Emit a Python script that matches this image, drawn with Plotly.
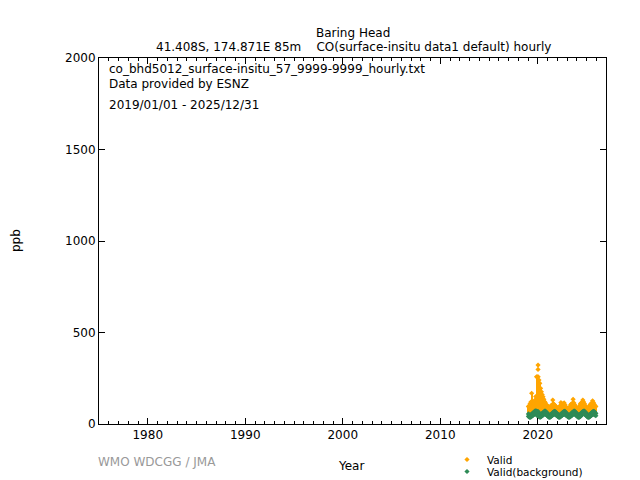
import plotly.graph_objects as go

# monthly summaries of the hourly record, 2019-01 .. 2025-12
years = [2019, 2020, 2021, 2022, 2023, 2024, 2025]
months = [1, 2, 3, 4, 5, 6, 7, 8, 9, 10, 11, 12]

# Valid: monthly max / min of hourly values (ppb)
valid_hi = [
    95, 100, 110, 120, 168, 125, 115, 120, 130, 150, 258, 258,   # 2019
    258, 240, 222, 195, 176, 160, 149, 135, 122, 115, 104, 100,  # 2020
    98, 90, 88, 95, 100, 105, 131, 110, 105, 100, 95, 90,        # 2021
    82, 80, 88, 100, 117, 110, 108, 112, 115, 105, 95, 88,       # 2022
    80, 78, 85, 95, 105, 110, 112, 135, 115, 105, 95, 88,        # 2023
    82, 80, 90, 100, 110, 115, 118, 131, 120, 110, 100, 92,      # 2024
    85, 82, 88, 98, 105, 110, 115, 127, 118, 108, 100, 95,       # 2025
]
valid_lo = [
    36, 33, 32, 34, 37, 41, 44, 48, 50, 50, 46, 42,
    40, 36, 33, 34, 37, 41, 44, 48, 51, 50, 45, 41,
    37, 33, 32, 34, 37, 41, 44, 47, 50, 49, 45, 41,
    37, 33, 32, 34, 37, 41, 44, 47, 50, 49, 45, 41,
    37, 33, 32, 34, 37, 41, 44, 48, 51, 50, 45, 41,
    37, 33, 32, 34, 38, 42, 45, 49, 52, 51, 46, 42,
    38, 34, 32, 34, 37, 41, 44, 48, 50, 49, 45, 41,
]
# isolated hourly spikes (Jan 2020 bushfire smoke)
spike_t = [2020.03, 2020.03]
spike_v = [322, 298]

# Valid(background): monthly max / min (ppb)
bg_hi = [
    55, 50, 48, 50, 54, 58, 62, 66, 70, 72, 70, 68,
    68, 60, 52, 52, 55, 58, 62, 66, 70, 70, 65, 60,
    55, 50, 48, 50, 54, 58, 62, 66, 69, 68, 64, 58,
    54, 50, 48, 50, 54, 58, 62, 66, 69, 69, 64, 58,
    54, 50, 48, 50, 54, 58, 63, 67, 70, 70, 65, 59,
    55, 51, 49, 51, 55, 59, 64, 68, 71, 70, 65, 59,
    55, 50, 48, 50, 54, 58, 62, 66, 69, 68, 63, 58,
]
bg_lo = [
    42, 38, 36, 38, 41, 45, 48, 52, 55, 55, 50, 46,
    45, 40, 37, 38, 41, 45, 48, 52, 55, 54, 50, 46,
    42, 38, 36, 38, 41, 45, 48, 52, 54, 53, 49, 45,
    42, 38, 36, 38, 41, 45, 48, 52, 54, 53, 49, 45,
    42, 38, 36, 38, 41, 45, 49, 53, 55, 54, 50, 46,
    42, 38, 36, 38, 42, 46, 50, 54, 56, 55, 50, 46,
    42, 38, 36, 38, 41, 45, 48, 52, 54, 53, 49, 45,
]

t = [y + (m - 0.5) / 12 for y in years for m in months]

orange = "#ffa500"
green = "#2e8b57"
font = "DejaVu Sans, sans-serif"

# page body has an 8px margin, so the figure is 632x472 drawn from (8, 8)
W, H, OFF = 632, 472, 8

# plot box in page pixels: x 99..606, y 58..424
def px(x):
    return (x - 99) / 507

def py(y):
    return (424 - y) / 366

fig = go.Figure()

fig.add_trace(go.Bar(x=t, base=valid_lo, y=[h - l for h, l in zip(valid_hi, valid_lo)],
                     width=0.1, marker=dict(color=orange, line=dict(width=0)),
                     showlegend=False, hoverinfo="skip"))
fig.add_trace(go.Scatter(x=t + spike_t, y=valid_hi + spike_v, mode="markers", name="Valid",
                         marker=dict(symbol="diamond", size=4, color=orange), legend="legend"))
fig.add_trace(go.Bar(x=t, base=bg_lo, y=[h - l for h, l in zip(bg_hi, bg_lo)],
                     width=0.1, marker=dict(color=green, line=dict(width=0)),
                     showlegend=False, hoverinfo="skip"))
fig.add_trace(go.Scatter(x=t + t, y=bg_hi + bg_lo, mode="markers", name="Valid(background)",
                         marker=dict(symbol="diamond", size=4, color=green), legend="legend2"))

ax = dict(showgrid=False, zeroline=False, showline=True, linecolor="black", linewidth=1,
          mirror="allticks", ticks="inside", ticklen=6, tickcolor="black", automargin=False,
          tickfont=dict(family=font, size=12, color="black"))

leg = dict(xref="container", yref="container", xanchor="left", yanchor="middle",
           font=dict(family=font, size=10.5), bgcolor="rgba(0,0,0,0)", borderwidth=0)

fig.update_layout(
    width=W, height=H,
    margin=dict(l=99 - OFF, r=W + OFF - 606, t=58 - OFF, b=H + OFF - 424, autoexpand=False),
    paper_bgcolor="white", plot_bgcolor="white",
    barmode="overlay", bargap=0,
    font=dict(family=font, size=12, color="black"),
    xaxis=dict(ax, range=[1975, 2027], tick0=1980, dtick=10,
               minor=dict(dtick=1, ticks="inside", ticklen=3, tickcolor="black")),
    yaxis=dict(ax, range=[0, 2000], dtick=500),
    legend=dict(leg, x=(447 - OFF) / W, y=1 - (459.5 - OFF) / H),
    legend2=dict(leg, x=(447 - OFF) / W, y=1 - (471.5 - OFF) / H),
    showlegend=True,
)

notes = [
    (33, "Baring Head"),
    (47, "41.408S, 174.871E 85m    CO(surface-insitu data1 default) hourly"),
]
for y, txt in notes:
    fig.add_annotation(x=px(353), y=py(y), xref="paper", yref="paper", text=txt,
                       showarrow=False, xanchor="center", yanchor="middle",
                       font=dict(family=font, size=12))

inside = [
    (69, "co_bhd5012_surface-insitu_57_9999-9999_hourly.txt"),
    (84, "Data provided by ESNZ"),
    (105, "2019/01/01 - 2025/12/31"),
]
for y, txt in inside:
    fig.add_annotation(x=px(107), y=py(y), xref="paper", yref="paper", text=txt,
                       showarrow=False, xanchor="left", yanchor="middle",
                       font=dict(family=font, size=12))

fig.add_annotation(x=px(96), y=py(462), xref="paper", yref="paper", text="WMO WDCGG / JMA",
                   showarrow=False, xanchor="left", yanchor="middle",
                   font=dict(family=font, size=12, color="#999999"))
fig.add_annotation(x=px(351), y=py(466), xref="paper", yref="paper", text="Year",
                   showarrow=False, xanchor="center", yanchor="middle",
                   font=dict(family=font, size=12))
fig.add_annotation(x=px(16), y=py(241), xref="paper", yref="paper", text="ppb",
                   textangle=-90, showarrow=False, xanchor="center", yanchor="middle",
                   font=dict(family=font, size=12))

fig.write_html("out.html")
